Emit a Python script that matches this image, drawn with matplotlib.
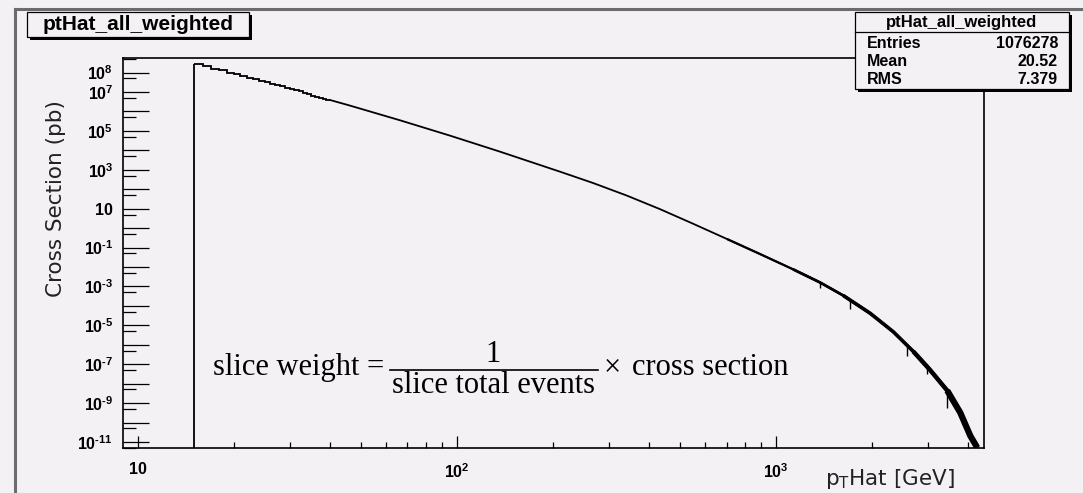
import matplotlib
matplotlib.use('Agg')
import matplotlib.pyplot as plt
from matplotlib.patches import Rectangle
from matplotlib.lines import Line2D
from matplotlib.ticker import NullFormatter

# histogram, 1 GeV bins at the low end (steps visible)
bin_edges = [15, 16, 17, 18, 19, 20, 21, 22, 23, 24, 25, 26, 27, 28, 29, 30,
             31, 32, 33, 34, 35, 36, 37, 38, 39, 40]
bin_vals = [2.7e8, 2.2e8, 1.6e8, 1.3e8, 1.0e8, 8.1e7, 6.5e7, 5.1e7, 4.4e7, 3.7e7,
            3.2e7, 2.7e7, 2.3e7, 2.0e7, 1.7e7, 1.5e7, 1.26e7, 1.1e7, 9.3e6, 7.6e6,
            6.2e6, 5.5e6, 4.9e6, 4.4e6, 3.9e6]

# rest of the spectrum
curve_x = [40, 46.2, 66.3, 95.1, 136.4, 210, 267, 341, 433, 549, 702, 891, 1130,
           1374, 1622, 1971, 2328, 2689, 3039, 3436, 3776, 4058, 4267]
curve_y = [3.9e6, 2.01e6, 3.52e5, 5.72e4, 8.57e3, 807, 209, 46.8, 9.42, 1.69, 0.274,
           4.62e-2, 7.6e-3, 1.59e-3, 3.44e-4, 4.16e-5, 4.68e-6, 4.57e-7, 4.97e-8,
           4.41e-9, 3.2e-10, 2.09e-11, 5.08e-12]

# downward fluctuations on the tail
spike_x = [1377, 1706, 2570, 2963, 3420]
spike_hi = [1.6e-3, 2.1e-4, 1.1e-6, 1.0e-7, 6.0e-9]
spike_lo = [8.5e-4, 7.1e-5, 2.6e-7, 3.2e-8, 5.6e-10]

xmaj = [10, 100, 1000]
xmaj_lab = ['10', r'$\mathdefault{10^{2}}$', r'$\mathdefault{10^{3}}$']
xmin = [20, 30, 40, 50, 60, 70, 80, 90, 200, 300, 400, 500, 600, 700, 800, 900,
        2000, 3000, 4000]

ydec = list(range(-11, 9))
ylab_dec = [-11, -9, -7, -5, -3, -1, 1, 3, 5, 7, 8]

stat_names = ['Entries', 'Mean', 'RMS']
stat_vals = ['1076278', '20.52', '7.379']

W, H = 1083, 493
bg = '#f4f1f4'


def fx(p):
    return p / W


def fy(p):
    return 1 - p / H


fig = plt.figure(figsize=(W / 100, H / 100), dpi=100, facecolor=bg)
ax = fig.add_axes([fx(123), fy(448), (984 - 123) / W, (448 - 58) / H])
ax.set_facecolor(bg)
ax.set_xscale('log')
ax.set_yscale('log')
ymin, ymax = 4.9e-12, 5.6e8
ax.set_xlim(9.0, 4480)
ax.set_ylim(ymin, ymax)

# histogram
ax.stairs(bin_vals, bin_edges, baseline=None, color='k', lw=1.3)
ax.vlines(bin_edges[0], ymin, bin_vals[0], color='k', lw=1.3)
ax.plot(curve_x, curve_y, color='k', lw=1.3, solid_joinstyle='round')
# the fine bins get noisier towards high pT, so the line looks thicker
for start, lw in [(10, 1.6), (12, 2.0), (14, 2.6), (17, 3.2), (19, 4.5)]:
    ax.plot(curve_x[start:], curve_y[start:], color='k', lw=lw,
            solid_capstyle='butt', solid_joinstyle='round')
ax.vlines(spike_x, spike_lo, spike_hi, color='k', lw=1.0)

# ticks
tickfont = dict(fontfamily='Liberation Sans', fontweight='bold', fontsize=11.5)
ax.set_xticks(xmaj, xmaj_lab, **tickfont)
ax.set_xticks(xmin, minor=True)
ax.xaxis.set_minor_formatter(NullFormatter())
ylabels = []
for d in ydec:
    if d not in ylab_dec:
        ylabels.append('')
    elif d == 1:
        ylabels.append('10')
    elif d < 0:
        ylabels.append('$\\mathdefault{10^{\u2010%d}}$' % (-d))
    else:
        ylabels.append('$\\mathdefault{10^{%d}}$' % d)
ax.set_yticks([10.0 ** d for d in ydec], ylabels, **tickfont)
ax.set_yticks([5 * 10.0 ** d for d in range(-12, 9) if ymin < 5 * 10.0 ** d < ymax],
              minor=True)
ax.yaxis.set_minor_formatter(NullFormatter())
ax.tick_params(axis='both', which='both', direction='in', top=False, right=False,
               width=0.9, color='k')
ax.tick_params(axis='x', which='major', length=8.6, pad=10)
ax.tick_params(axis='x', which='minor', length=4.3)
ax.tick_params(axis='y', which='major', length=18.7, pad=7)
ax.tick_params(axis='y', which='minor', length=9.4)
for s in ax.spines.values():
    s.set_linewidth(1.2)

# axis titles
fig.text(fx(56), fy(199), 'Cross Section (pb)', rotation=90, ha='center',
         va='center', fontsize=15.5, fontfamily='DejaVu Sans', color='#222222')
fig.text(fx(955), fy(485), r'$\mathregular{p_{T}}$Hat [GeV]', ha='right',
         va='baseline', fontsize=15.5, fontfamily='DejaVu Sans', color='#222222')

# formula
serif = dict(fontfamily='Liberation Serif', fontsize=22, color='k')
fig.text(fx(213), fy(375), 'slice weight', ha='left', va='baseline', **serif)
fig.text(fx(375.5), fy(375), '=', ha='center', va='baseline', **serif)
fig.add_artist(Line2D([fx(390), fx(598)], [fy(370), fy(370)], color='k', lw=1.2))
fig.text(fx(493), fy(362), '1', ha='center', va='baseline', **serif)
fig.text(fx(493), fy(393), 'slice total events', ha='center', va='baseline', **serif)
fig.text(fx(612), fy(375), '\u00d7', ha='center', va='baseline', **serif)
fig.text(fx(632), fy(375), 'cross section', ha='left', va='baseline', **serif)

# pad border (dark top/left edge)
fig.add_artist(Line2D([fx(15), fx(1083)], [fy(8.5), fy(8.5)], color='#6c6c6c', lw=2.2))
fig.add_artist(Line2D([fx(15), fx(15)], [fy(8.5), fy(493)], color='#6c6c6c', lw=2.2))


def box(x0, y0, x1, y1):
    fig.add_artist(Rectangle((fx(x0 + 3), fy(y1 + 2.5)), (x1 - x0) / W, (y1 - y0) / H,
                             transform=fig.transFigure, facecolor='k',
                             edgecolor='none', zorder=5))
    fig.add_artist(Rectangle((fx(x0), fy(y1)), (x1 - x0) / W, (y1 - y0) / H,
                             transform=fig.transFigure, facecolor=bg,
                             edgecolor='k', lw=0.9, zorder=6))


# title box
box(27, 12, 249, 37)
fig.text(fx(138), fy(25), 'ptHat_all_weighted', ha='center', va='center',
         fontfamily='Liberation Sans', fontweight='bold', fontsize=15, zorder=7)

# stats box
box(855, 12, 1069, 89)
fig.add_artist(Line2D([fx(855), fx(1069)], [fy(32), fy(32)], color='k', lw=0.9, zorder=7))
fig.text(fx(962), fy(22), 'ptHat_all_weighted', ha='center', va='center',
         fontfamily='Liberation Sans', fontweight='bold', fontsize=12, zorder=7)
for i in range(len(stat_names)):
    yy = 43 + i * 18.5
    fig.text(fx(867), fy(yy), stat_names[i], ha='left', va='center',
             fontfamily='Liberation Sans', fontweight='bold', fontsize=11.5, zorder=7)
    fig.text(fx(1058), fy(yy), stat_vals[i], ha='right', va='center',
             fontfamily='Liberation Sans', fontweight='bold', fontsize=11.5, zorder=7)

fig.savefig('out.png', dpi=100, facecolor=bg)
